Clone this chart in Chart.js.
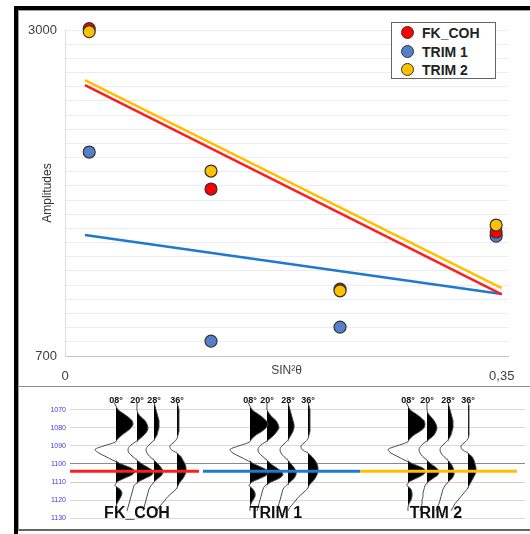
<!DOCTYPE html>
<html>
<head>
<meta charset="utf-8">
<title>AVO amplitudes</title>
<script src="https://cdn.jsdelivr.net/npm/chart.js@4.4.0/dist/chart.umd.min.js"></script>
<style>
  html, body { margin: 0; padding: 0; background: #fff; }
  #page { position: relative; width: 530px; height: 534px; overflow: hidden; font-family: "Liberation Sans", Arial, sans-serif; }
  #frameOuter { position: absolute; left: 14px; top: 6px; width: 540px; height: 540px; border-left: 4px solid #000; border-top: 4px solid #000; }
  #frameInner { position: absolute; left: 18px; top: 10px; width: 520px; height: 518px; border-left: 1px solid #a0a0a0; border-top: 1px solid #a0a0a0; border-bottom: 2px solid #666; }
  #sep { position: absolute; left: 19px; top: 386px; width: 511px; height: 1px; background: #8a8a8a; }
  #topWrap { position: absolute; left: 19px; top: 12px; width: 509px; height: 374px; }
  #botWrap { position: absolute; left: 19px; top: 387px; width: 509px; height: 143px; }
  #legend { position: absolute; left: 391px; top: 22px; width: 103px; height: 55px; border: 1.5px solid #666; background: #fff; }
  #legend .item { position: absolute; left: 9px; height: 18px; line-height: 18px; font-weight: bold; font-size: 14px; color: #222; white-space: nowrap; }
  #legend .dot { display: inline-block; width: 11px; height: 11px; border-radius: 50%; border: 1px solid #333; vertical-align: -1px; margin-right: 8px; }
</style>
</head>
<body>
<div id="page">
  <div id="frameOuter"></div>
  <div id="frameInner"></div>
  <div id="topWrap"><canvas id="topChart"></canvas></div>
  <div id="sep"></div>
  <div id="botWrap"><canvas id="botChart"></canvas></div>
  <div id="legend"></div>
</div>
<script>
// ── Top panel: amplitude vs sin²θ ─────────────────────────────
const seriesNames  = ['FK_COH', 'TRIM 1', 'TRIM 2'];
const sinSquared   = [0.0194, 0.117, 0.2204, 0.3455];   // 08°, 20°, 28°, 36°
const fkValues     = [3010, 1878, 1172, 1575];
const trim1Values  = [2139, 805, 904, 1546];
const trim2Values  = [2988, 2005, 1160, 1624];

const trendX       = [0.016, 0.35];
const fkTrend      = [2611, 1135];
const trim1Trend   = [1553, 1137];
const trim2Trend   = [2647, 1179];

const yTickLabels  = [700, 3000];
const xTickValues  = [0, 0.35];
const xTickLabels  = ['0', '0,35'];

// ── Bottom panel: gathers (wiggle traces) ─────────────────────
const timeTicks    = [1070, 1080, 1090, 1100, 1110, 1120, 1130];
const traceTimes   = [1066, 1068, 1070, 1072, 1074, 1076, 1078, 1080, 1082, 1084,
                      1086, 1088, 1090, 1092, 1094, 1096, 1098, 1100, 1102, 1104,
                      1106, 1108, 1110, 1112, 1114, 1116, 1118, 1120, 1122, 1124, 1126];
const angleLabels  = ['08°', '20°', '28°', '36°'];

const fkOffsets    = [116, 137, 154, 177];
const trim1Offsets = [250, 267, 288, 308];
const trim2Offsets = [408, 427, 448, 468];
const groupCenters = [137, 276, 436];

const fkAmps = [
  [-2, 0, 2, 7, 12, 16, 17, 15, 11, 6, 2, -1, -12, -21, -17, -10, -3, 5, 14, 19, 16, 8, 1, -1, 4, 6, 5, 3, 1, 0, 0],
  [0, 0, 0, 1, 4, 8, 10, 11, 10, 7, 3, -2, -7, -9, -8, -4, 0, 5, 11, 16, 15, 8, 1, -3, -4, -5, -6, -7, -8, -9, -10],
  [0, 1, 2, 3, 4, 5, 5, 5, 4, 3, 1, -2, -6, -8, -7, -4, 0, 4, 7, 9, 8, 4, 0, -3, -5, -6, -7, -8, -9, -10, -11],
  [0, 1, 2, 2, 2, 2, 2, 2, 2, 1, 0, -3, -7, -6, 0, 4, 6, 8, 9, 9, 8, 6, 3, 1, -1, -5, -9, -12, -15, -18, -20],
];
const trim1Amps = [
  [-2, 0, 2, 7, 12, 16, 18, 16, 12, 6, 2, -1, -11, -20, -17, -10, -3, 4, 12, 18, 17, 10, 2, -1, 3, 5, 5, 3, 1, 0, 0],
  [0, 0, 0, 2, 5, 9, 11, 12, 10, 7, 3, -2, -7, -9, -8, -4, 0, 4, 9, 14, 16, 12, 4, -2, -4, -5, -6, -7, -8, -9, -10],
  [0, 1, 2, 3, 4, 5, 6, 6, 5, 3, 1, -2, -6, -8, -7, -4, 0, 3, 6, 8, 8, 6, 2, -2, -5, -6, -7, -8, -9, -10, -11],
  [0, 1, 2, 2, 2, 2, 2, 2, 2, 1, 0, -3, -7, -6, 0, 4, 7, 9, 10, 10, 9, 7, 4, 1, -1, -5, -9, -12, -15, -18, -20],
];
const trim2Amps = [
  [-2, 0, 2, 7, 12, 16, 17, 16, 12, 6, 2, -1, -11, -20, -17, -10, -3, 5, 14, 18, 15, 8, 1, -1, 3, 4, 4, 3, 1, 0, 0],
  [0, 0, 0, 1, 4, 7, 9, 10, 9, 7, 3, -2, -6, -8, -7, -4, 0, 4, 9, 12, 11, 6, 1, -2, -3, -4, -4, -5, -5, -6, -7],
  [0, 1, 2, 3, 4, 5, 5, 5, 4, 3, 1, -2, -6, -8, -7, -4, 0, 3, 5, 6, 6, 4, 0, -3, -5, -6, -7, -8, -9, -11, -12],
  [0, 1, 1, 1, 1, 1, 1, 1, 1, 1, 0, -3, -7, -6, 0, 4, 6, 7, 8, 8, 7, 5, 3, 1, -1, -4, -7, -10, -13, -15, -17],
];

const horizonTime  = 1104;
const horizonSpans = [[68, 199], [203, 360], [360, 517]];

// ── Styles ────────────────────────────────────────────────────
const pointColors = ['#ff0000', '#5580c8', '#ffc000'];
const lineColors  = ['#ff1e1e', '#1f78d2', '#ffbf00'];
const FONT = '"Liberation Sans", Arial, sans-serif';

// ── Legend (HTML, sits inside the plot) ───────────────────────
function buildLegend() {
  const box = document.getElementById('legend');
  seriesNames.forEach((name, i) => {
    const item = document.createElement('div');
    item.className = 'item';
    item.style.top = (1 + i * 18.5) + 'px';
    item.innerHTML = `<span class="dot" style="background:${pointColors[i]}"></span>${name}`;
    box.appendChild(item);
  });
}

// ── Top chart ─────────────────────────────────────────────────
function initTopChart() {
  const toPts = (xs, ys) => xs.map((x, i) => ({ x, y: ys[i] }));
  const trend = (ys, i, order) => ({
    label: seriesNames[i] + ' trend',
    data: toPts(trendX, ys),
    showLine: true,
    borderColor: lineColors[i],
    borderWidth: 2.5,
    pointRadius: 0,
    order,
  });
  const points = (ys, i, order) => ({
    label: seriesNames[i],
    data: toPts(sinSquared, ys),
    pointRadius: 6,
    pointBackgroundColor: pointColors[i],
    pointBorderColor: '#333',
    pointBorderWidth: 1.2,
    clip: false,
    order,
  });

  new Chart(document.getElementById('topChart'), {
    type: 'scatter',
    data: {
      datasets: [
        trend(trim1Trend, 1, 5),
        trend(fkTrend, 0, 4),
        trend(trim2Trend, 2, 3),
        points(trim1Values, 1, 2),
        points(fkValues, 0, 1),
        points(trim2Values, 2, 0),
      ],
    },
    options: {
      animation: false,
      responsive: true,
      maintainAspectRatio: false,
      layout: { padding: { top: 18, right: 20, left: 0, bottom: 0 } },
      plugins: { legend: { display: false }, tooltip: { enabled: false } },
      scales: {
        x: {
          type: 'linear', min: 0, max: 0.355,
          afterBuildTicks: (s) => { s.ticks = xTickValues.map(v => ({ value: v })); },
          afterFit: (s) => { s.height = 30; },
          ticks: {
            padding: 5, color: '#404040', font: { family: FONT, size: 13 },
            callback: (v) => xTickLabels[xTickValues.indexOf(v)] ?? '',
          },
          grid: { display: false },
          border: { color: '#c4c4c4' },
          title: { display: true, text: 'SIN²θ', color: '#404040', font: { family: FONT, size: 12 }, padding: { top: -20, bottom: 8 } },
        },
        y: {
          type: 'linear', min: 700, max: 3000,
          afterFit: (s) => { s.width = 46; },
          ticks: {
            stepSize: 100, autoSkip: false, padding: 8, color: '#404040',
            font: { family: FONT, size: 13 },
            callback: (v) => yTickLabels.includes(v) ? String(v) : '',
          },
          grid: { color: '#ececec', drawTicks: false },
          border: { color: '#dcdcdc' },
          title: { display: true, text: 'Amplitudes', color: '#333', font: { family: FONT, size: 12 }, padding: { top: 21, bottom: 0 } },
        },
      },
    },
  });
}

// ── Bottom chart ──────────────────────────────────────────────
const traceLabelPlugin = {
  id: 'traceLabels',
  afterDatasetsDraw(chart) {
    const { ctx, scales: { x, y } } = chart;
    ctx.save();
    ctx.fillStyle = '#111';
    ctx.textAlign = 'center';
    ctx.textBaseline = 'middle';
    ctx.font = `bold 9px ${FONT}`;
    [fkOffsets, trim1Offsets, trim2Offsets].forEach(offs => {
      offs.forEach((o, i) => ctx.fillText(angleLabels[i], x.getPixelForValue(o), y.getPixelForValue(1065)));
    });
    ctx.font = `bold 16px ${FONT}`;
    seriesNames.forEach((n, g) => ctx.fillText(n, x.getPixelForValue(groupCenters[g]), y.getPixelForValue(1127.3)));
    ctx.restore();
  },
};

function initBottomChart() {
  const datasets = [];
  const groups = [[fkOffsets, fkAmps], [trim1Offsets, trim1Amps], [trim2Offsets, trim2Amps]];

  groups.forEach(([offs, amps], g) => {
    amps.forEach((amp, i) => {
      const base = offs[i];
      // positive half filled black towards the trace's zero line
      datasets.push({
        label: `${seriesNames[g]} ${angleLabels[i]} fill`,
        data: traceTimes.map((t, k) => ({ x: base + Math.max(amp[k], 0), y: t })),
        borderColor: 'transparent',
        borderWidth: 0,
        backgroundColor: '#000',
        fill: { value: base },
        pointRadius: 0,
        tension: 0.3,
        order: 2,
      });
      datasets.push({
        label: `${seriesNames[g]} ${angleLabels[i]}`,
        data: traceTimes.map((t, k) => ({ x: base + amp[k], y: t })),
        borderColor: '#4a4a4a',
        borderWidth: 1,
        fill: false,
        pointRadius: 0,
        tension: 0.3,
        order: 1,
      });
    });
  });

  horizonSpans.forEach((span, g) => {
    datasets.push({
      label: `${seriesNames[g]} horizon`,
      data: span.map(x => ({ x, y: horizonTime })),
      borderColor: lineColors[g],
      borderWidth: 3,
      fill: false,
      pointRadius: 0,
      order: 0,
    });
  });

  new Chart(document.getElementById('botChart'), {
    type: 'line',
    data: { datasets },
    plugins: [traceLabelPlugin],
    options: {
      indexAxis: 'y',
      animation: false,
      responsive: true,
      maintainAspectRatio: false,
      layout: { padding: { top: 2, right: 3, left: 0, bottom: 0 } },
      plugins: { legend: { display: false }, tooltip: { enabled: false } },
      scales: {
        x: { type: 'linear', min: 70, max: 525, display: false },
        y: {
          type: 'linear', reverse: true, min: 1062, max: 1132,
          afterBuildTicks: (s) => { s.ticks = timeTicks.map(v => ({ value: v })); },
          afterFit: (s) => { s.width = 51; },
          ticks: { padding: 4, color: '#3a3af0', font: { family: FONT, size: 7 }, callback: (v) => String(v) },
          grid: {
            drawTicks: false,
            color: (c) => c.tick && c.tick.value === 1100 ? '#8a8a8a' : (c.tick && c.tick.value === 1110 ? '#e6c4c4' : '#dadada'),
          },
          border: { display: false },
        },
      },
    },
  });
}

window.addEventListener('DOMContentLoaded', () => {
  buildLegend();
  initTopChart();
  initBottomChart();
});
</script>
</body>
</html>
